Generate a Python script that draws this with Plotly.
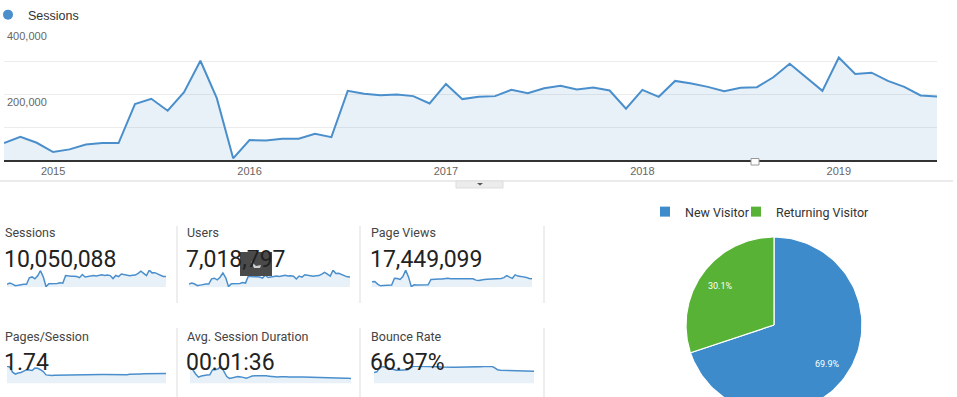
import numpy as np
import pandas as pd
import plotly.graph_objects as go

W, H = 957, 397

# ---------------- data ----------------
months = list(pd.date_range("2014-10-01", periods=58, freq="MS").strftime("%Y-%m"))
year_ticks = ["2015-01", "2016-01", "2017-01", "2018-01", "2019-01"]
year_labels = ["2015", "2016", "2017", "2018", "2019"]

sessions = [52000, 71000, 53000, 25000, 33000, 48000, 52000, 52000, 170000, 186000,
            150000, 206000, 301000, 188000, 6000, 61000, 60000, 65000, 65000, 80000,
            70000, 210000, 201000, 197000, 199000, 194000, 172000, 231000, 185000, 192000,
            194000, 213000, 203000, 218000, 225000, 214000, 220000, 211000, 156000, 213000,
            192000, 240000, 232000, 222000, 209000, 219000, 221000, 251000, 292000, 252000,
            210000, 311000, 261000, 265000, 240000, 222000, 196000, 193000]

users = [37000, 50000, 38000, 18000, 24000, 34000, 37000, 37000, 105000, 113000,
         92000, 125000, 180000, 118000, 5000, 43000, 42000, 46000, 46000, 57000,
         50000, 139000, 133000, 130000, 131000, 128000, 114000, 152000, 122000, 127000,
         128000, 141000, 134000, 144000, 149000, 141000, 145000, 139000, 103000, 141000,
         127000, 158000, 153000, 147000, 138000, 145000, 146000, 166000, 188000, 166000,
         139000, 216000, 173000, 175000, 158000, 147000, 130000, 129000]

page_views = [200000, 215000, 110000, 45000, 60000, 75000, 78000, 80000, 340000, 330000,
              290000, 400000, 650000, 390000, 12000, 85000, 80000, 82000, 82000, 92000,
              85000, 290000, 305000, 310000, 312000, 308000, 330000, 335000, 318000, 322000,
              320000, 325000, 318000, 330000, 322000, 320000, 318000, 265000, 250000, 285000,
              290000, 300000, 305000, 300000, 310000, 325000, 330000, 360000, 440000, 380000,
              335000, 470000, 420000, 410000, 395000, 370000, 330000, 315000]

pages_per_session = [3.2, 3.05, 2.1, 1.75, 1.95, 2.05, 2.3, 2.55, 2.5, 2.4,
                     2.85, 2.8, 2.55, 2.2, 1.6, 1.5, 1.5, 1.52, 1.53, 1.52,
                     1.54, 1.55, 1.56, 1.6, 1.66, 1.7, 1.72, 1.73, 1.72, 1.71,
                     1.7, 1.69, 1.68, 1.68, 1.67, 1.66, 1.65, 1.63, 1.62, 1.6,
                     1.58, 1.57, 1.56, 1.62, 1.7, 1.75, 1.76, 1.77, 1.78, 1.79,
                     1.8, 1.8, 1.81, 1.82, 1.82, 1.83, 1.84, 1.85]

avg_duration_s = [255, 215, 150, 100, 118, 128, 132, 135, 215, 215,
                  230, 270, 190, 110, 80, 90, 100, 108, 104, 95,
                  82, 100, 118, 122, 124, 125, 124, 120, 115, 108,
                  104, 103, 106, 110, 108, 104, 106, 108, 108, 104,
                  102, 100, 99, 98, 97, 96, 95, 94, 92, 90,
                  88, 86, 85, 84, 83, 82, 82, 80]

bounce_rate = [48, 51, 68, 75, 71, 68, 63, 59, 58, 58,
               59, 60, 60, 70, 75, 75, 75, 75.5, 75, 75,
               75, 75, 74, 73, 72, 71, 71, 71, 71, 70.5,
               70.5, 71, 71, 71.5, 72, 72, 72.5, 73, 73.5, 74,
               74.5, 75, 75, 68, 60, 58, 57.5, 57, 57, 56.5,
               56, 56, 55.5, 55, 55, 54.5, 54, 54]

metric_titles = ["Sessions", "Users", "Page Views",
                 "Pages/Session", "Avg. Session Duration", "Bounce Rate"]
metric_values = ["10,050,088", "7,018,797", "17,449,099", "1.74", "00:01:36", "66.97%"]
metric_series = [sessions, users, page_views, pages_per_session, avg_duration_s, bounce_rate]

visitor_types = ["New Visitor", "Returning Visitor"]
visitor_share = [69.9, 30.1]

# ---------------- style ----------------
BLUE = "#4a8fcc"
FILL = "rgba(74,143,204,0.13)"
PIE_COLORS = ["#3d8bcb", "#58b235"]
FONT = "Liberation Sans, Arial, sans-serif"
RFONT = "Roboto, Liberation Sans, sans-serif"


def fx(px):
    return px / W


def fy(py):
    return 1 - py / H


fig = go.Figure()

# main sessions chart
fig.add_trace(go.Scatter(x=months, y=sessions, mode="lines", line=dict(color=BLUE, width=2),
                         fill="tozeroy", fillcolor=FILL, showlegend=False, xaxis="x", yaxis="y"))
fig.add_trace(go.Scatter(x=[None], y=[None], mode="markers", name="Sessions",
                         marker=dict(color=BLUE, size=10, symbol="circle"),
                         xaxis="x", yaxis="y", legend="legend"))

# sparklines
spark_boxes = [(7, 166, 270, 287), (189, 350, 270, 287), (372, 532, 270, 287),
               (7, 166, 366, 383.6), (190, 351, 366, 383.6), (374, 534, 366, 383.6)]
layout_axes = {}
for i, (series, box) in enumerate(zip(metric_series, spark_boxes)):
    n = i + 2
    fig.add_trace(go.Scatter(x=months, y=series, mode="lines",
                             line=dict(color=BLUE, width=1.5),
                             fill="tozeroy", fillcolor=FILL, showlegend=False,
                             xaxis=f"x{n}", yaxis=f"y{n}"))
    x0, x1, ytop, ybot = box
    layout_axes[f"xaxis{n}"] = dict(domain=[fx(x0), fx(x1)], anchor=f"y{n}", type="category",
                                    range=[0, len(months) - 1], visible=False, fixedrange=True)
    layout_axes[f"yaxis{n}"] = dict(domain=[fy(ybot), fy(ytop)], anchor=f"x{n}",
                                    range=[0, max(series) * 1.01], visible=False, fixedrange=True)

# pie (drawn as wedges so it can be cropped by the frame like the original)
angle = 90.0
mid_angles = []
for name, share, col in zip(visitor_types, visitor_share, PIE_COLORS):
    span = share / 100 * 360
    th = np.radians(np.linspace(angle, angle - span, 120))
    xs = np.concatenate([[0], np.cos(th), [0]])
    ys = np.concatenate([[0], np.sin(th), [0]])
    fig.add_trace(go.Scatter(x=xs, y=ys, mode="lines", fill="toself", fillcolor=col,
                             line=dict(color="white", width=1.2), showlegend=False,
                             hoverinfo="skip", xaxis="x8", yaxis="y8"))
    mid_angles.append(np.radians(angle - span / 2))
    angle -= span
for k, (name, col) in enumerate(zip(visitor_types, PIE_COLORS)):
    fig.add_trace(go.Scatter(x=[None], y=[None], mode="markers", name=name,
                             marker=dict(color=col, size=10, symbol="square"),
                             xaxis="x8", yaxis="y8", legend=f"legend{k + 2}"))

annotations = []
for share, a in zip(visitor_share, mid_angles):
    annotations.append(dict(x=0.75 * np.cos(a), y=0.75 * np.sin(a), xref="x8", yref="y8",
                            text=f"{share}%", showarrow=False, xanchor="center",
                            font=dict(family=RFONT, size=9, color="white")))

# scorecards
col_x = [5, 187, 371]
row_y = [(233, 259.5), (336, 362.5)]
for i, (t, v) in enumerate(zip(metric_titles, metric_values)):
    cx = col_x[i % 3]
    ty, vy = row_y[i // 3]
    annotations.append(dict(x=fx(cx - 2), y=fy(ty), xref="paper", yref="paper", text=t,
                            showarrow=False, xanchor="left", yanchor="middle",
                            font=dict(family=RFONT, size=12.5, color="#444")))
    annotations.append(dict(x=fx(cx - 3), y=fy(vy), xref="paper", yref="paper", text=v,
                            showarrow=False, xanchor="left", yanchor="middle",
                            font=dict(family=RFONT, size=23, color="#222")))

shapes = []
# separator under main chart
shapes.append(dict(type="line", xref="paper", yref="paper", x0=0, x1=fx(953),
                   y0=fy(181), y1=fy(181), line=dict(color="#d6d6d6", width=1)))
# collapse tab
shapes.append(dict(type="rect", xref="paper", yref="paper", x0=fx(456), x1=fx(503),
                   y0=fy(188), y1=fy(181), fillcolor="#ececec", line=dict(color="#dddddd", width=1)))
shapes.append(dict(type="path", xref="paper", yref="paper",
                   path=f"M {fx(477)} {fy(183)} L {fx(483)} {fy(183)} L {fx(480)} {fy(185.5)} Z",
                   fillcolor="#555", line=dict(width=0)))
# annotation marker on axis
shapes.append(dict(type="rect", xref="paper", yref="paper", x0=fx(751), x1=fx(759),
                   y0=fy(165), y1=fy(158.5), fillcolor="white", line=dict(color="#999", width=1)))
# scorecard vertical separators
for xv in [177, 360, 544]:
    for (y0, y1) in [(226, 303), (328, 397)]:
        shapes.append(dict(type="line", xref="paper", yref="paper", x0=fx(xv), x1=fx(xv),
                           y0=fy(y1), y1=fy(y0), line=dict(color="#dddddd", width=1)))
# dark cursor tooltip box over the Users value (screen artifact)
shapes.append(dict(type="rect", xref="paper", yref="paper", layer="above",
                   x0=fx(240), x1=fx(272), y0=fy(276), y1=fy(252),
                   fillcolor="#4a4a4a", line=dict(width=0)))
shapes.append(dict(type="path", xref="paper", yref="paper", layer="above",
                   path=(f"M {fx(251)} {fy(261)} L {fx(256)} {fy(266)} L {fx(261)} {fy(265)} "
                         f"L {fx(260)} {fy(268)} L {fx(254)} {fy(268)} Z"),
                   fillcolor="#cfcfcf", line=dict(width=0)))

legend_common = dict(yanchor="middle", xanchor="left", orientation="h",
                     bgcolor="rgba(0,0,0,0)", itemwidth=30)
layout = dict(
    width=W, height=H, margin=dict(l=0, r=0, t=0, b=0, autoexpand=False),
    paper_bgcolor="white", plot_bgcolor="rgba(0,0,0,0)",
    showlegend=True,
    xaxis=dict(domain=[fx(4), fx(937)], type="category", range=[0, len(months) - 1],
               tickmode="array", tickvals=year_ticks, ticktext=year_labels,
               tickfont=dict(family=FONT, size=11, color="#666"), ticks="", ticklen=0,
               showgrid=False, showline=True, linecolor="#333", linewidth=1.5,
               zeroline=False, fixedrange=True, anchor="y"),
    yaxis=dict(domain=[fy(160.3), fy(28)], range=[0, 400000], tickmode="array",
               tickvals=[200000, 400000], ticktext=["200,000", "400,000"],
               ticklabelposition="inside bottom",
               tickfont=dict(family=FONT, size=11, color="#666"),
               showgrid=True, gridcolor="#ececec", gridwidth=1,
               minor=dict(tickvals=[100000, 300000], showgrid=True, gridcolor="#ececec"),
               zeroline=False, showline=False, fixedrange=True, anchor="x"),
    xaxis8=dict(domain=[fx(686), fx(862)], range=[-1, 1], visible=False, anchor="y8", fixedrange=True),
    yaxis8=dict(domain=[0, fy(237)], range=[1 - 160 / 88, 1], visible=False, anchor="x8", fixedrange=True),
    legend=dict(x=0, y=fy(15), indentation=-12,
                font=dict(family=FONT, size=12.5, color="#333"), **legend_common),
    legend2=dict(x=fx(645), y=fy(212),
                 font=dict(family=RFONT, size=12.5, color="#333"), **legend_common),
    legend3=dict(x=fx(736), y=fy(212),
                 font=dict(family=RFONT, size=12.5, color="#333"), **legend_common),
    annotations=annotations, shapes=shapes,
)
layout.update(layout_axes)
fig.update_layout(**layout)
fig.write_html("out.html", config={"displayModeBar": False},
               post_script="document.body.style.margin='0';document.body.style.overflow='hidden';")
